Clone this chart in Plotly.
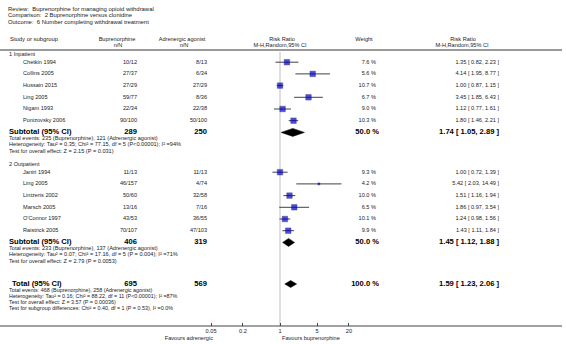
import plotly.graph_objects as go

W, H = 566, 344

# ---------------- data ----------------
review = "Review:  Buprenorphine for managing opioid withdrawal"
comparison = "Comparison:  2 Buprenorphine versus clonidine"
outcome = "Outcome:  6 Number completing withdrawal treatment"

group_names = ["1 Inpatient", "2 Outpatient"]

g1_studies = ["Chetkin 1994", "Collins 2005", "Hussain 2015", "Ling 2005", "Nigam 1993", "Ponizovsky 2006"]
g1_bup = ["10/12", "27/37", "27/29", "59/77", "22/34", "90/100"]
g1_adr = ["8/13", "6/34", "27/29", "8/36", "22/38", "50/100"]
g1_rr = [1.35, 4.14, 1.00, 3.45, 1.12, 1.80]
g1_lo = [0.82, 1.95, 0.87, 1.85, 0.77, 1.46]
g1_hi = [2.23, 8.77, 1.15, 6.43, 1.61, 2.21]
g1_w = [7.6, 5.6, 10.7, 6.7, 9.0, 10.3]

g2_studies = ["Janiri 1994", "Ling 2005", "Lintzeris 2002", "Marsch 2005", "O'Connor 1997", "Raistrick 2005"]
g2_bup = ["11/13", "46/157", "50/60", "13/16", "43/53", "70/107"]
g2_adr = ["11/13", "4/74", "32/58", "7/16", "36/55", "47/103"]
g2_rr = [1.00, 5.42, 1.51, 1.86, 1.24, 1.43]
g2_lo = [0.72, 2.03, 1.16, 0.97, 0.98, 1.11]
g2_hi = [1.39, 14.49, 1.94, 3.54, 1.56, 1.84]
g2_w = [9.3, 4.2, 10.0, 6.5, 10.1, 9.9]

sub_n_bup = [289, 406]
sub_n_adr = [250, 319]
sub_rr = [1.74, 1.45]
sub_lo = [1.05, 1.12]
sub_hi = [2.89, 1.88]
sub_w = [50.0, 50.0]
sub_notes = [
    ["Total events: 235 (Buprenorphine), 121 (Adrenergic agonist)",
     "Heterogeneity: Tau² = 0.35; Chi² = 77.15, df = 5 (P<0.00001); I² =94%",
     "Test for overall effect: Z = 2.15 (P = 0.031)"],
    ["Total events: 233 (Buprenorphine), 137 (Adrenergic agonist)",
     "Heterogeneity: Tau² = 0.07; Chi² = 17.16, df = 5 (P = 0.004); I² =71%",
     "Test for overall effect: Z = 2.79 (P = 0.0053)"],
]

tot_n_bup, tot_n_adr = 695, 569
tot_rr, tot_lo, tot_hi, tot_w = 1.59, 1.23, 2.06, 100.0
tot_notes = [
    "Total events: 468 (Buprenorphine), 258 (Adrenergic agonist)",
    "Heterogeneity: Tau² = 0.16; Chi² = 88.22, df = 11 (P<0.00001); I² =87%",
    "Test for overall effect: Z = 3.57 (P = 0.00036)",
    "Test for subgroup differences: Chi² = 0.40, df = 1 (P = 0.53), I² =0.0%",
]

tick_vals = [0.05, 0.2, 1, 5, 20]
tick_text = ["0.05", "0.2", "1", "5", "20"]

groups = [
    dict(name=group_names[0], studies=g1_studies, bup=g1_bup, adr=g1_adr, rr=g1_rr, lo=g1_lo, hi=g1_hi, w=g1_w),
    dict(name=group_names[1], studies=g2_studies, bup=g2_bup, adr=g2_adr, rr=g2_rr, lo=g2_lo, hi=g2_hi, w=g2_w),
]

# ---------------- layout constants (pixels) ----------------
FONT = "Liberation Sans, Arial, sans-serif"
FS = 5.6
FSB = 7.6
X_BUP = 137
X_ADR = 207
X_W = 376
X_RRT = 499
AX_Y = 326

texts = []  # (x, y, text, pos, size, color)


def add_text(x, y, text, anchor="left", size=FS, bold=False, color="#222"):
    pos = {"left": "middle right", "right": "middle left", "center": "middle center"}[anchor]
    texts.append((x, y, ("<b>%s</b>" % text) if bold else text, pos, size, color))


def fmt_ci(r, l, h):
    return "%.2f [ %.2f, %.2f ]" % (r, l, h)


# header
add_text(8, 10, review, size=5.9)
add_text(8, 16, comparison, size=5.9)
add_text(8, 22.5, outcome, size=5.9)
add_text(10, 40, "Study or subgroup", size=5.9)
add_text(117, 40, "Buprenorphine", anchor="center")
add_text(118, 46, "n/N", anchor="center")
add_text(182, 40, "Adrenergic agonist", anchor="center")
add_text(184, 46, "n/N", anchor="center")
add_text(282, 40, "Risk Ratio", anchor="center")
add_text(280, 46, "M-H,Random,95% CI", anchor="center")
add_text(364, 40, "Weight", anchor="center")
add_text(463, 40, "Risk Ratio", anchor="center")
add_text(462, 46, "M-H,Random,95% CI", anchor="center")

fig = go.Figure()

group_start = [55, 165]
step = 11.7
ci_x, ci_y = [], []
sq_x, sq_y, sq_s = [], [], []

for gi, g in enumerate(groups):
    y0 = group_start[gi]
    add_text(9, y0, g["name"])
    for i, s in enumerate(g["studies"]):
        y = y0 + 7.2 + i * step
        add_text(23, y, s)
        add_text(X_BUP, y, g["bup"][i], anchor="right")
        add_text(X_ADR, y, g["adr"][i], anchor="right")
        add_text(X_W, y, "%.1f %%" % g["w"][i], anchor="right")
        add_text(X_RRT, y, fmt_ci(g["rr"][i], g["lo"][i], g["hi"][i]), anchor="right")
        ci_x += [g["lo"][i], g["hi"][i], None]
        ci_y += [y, y, None]
        sq_x.append(g["rr"][i])
        sq_y.append(y)
        sq_s.append(2 if g["w"][i] < 5 else 5.5)
    ys = y0 + 7.2 + len(g["studies"]) * step
    add_text(9, ys, "Subtotal (95% CI)", size=FSB, bold=True, color="#000")
    add_text(X_BUP, ys, str(sub_n_bup[gi]), anchor="right", size=FSB, bold=True, color="#000")
    add_text(X_ADR, ys, str(sub_n_adr[gi]), anchor="right", size=FSB, bold=True, color="#000")
    add_text(X_W + 3, ys, "%.1f %%" % sub_w[gi], anchor="right", size=FSB, bold=True, color="#000")
    add_text(X_RRT, ys, fmt_ci(sub_rr[gi], sub_lo[gi], sub_hi[gi]), anchor="right", size=FSB, bold=True, color="#000")
    for k, note in enumerate(sub_notes[gi]):
        add_text(9, ys + 6.6 + k * 6.1, note)
    dh = 4
    fig.add_trace(go.Scatter(
        x=[sub_lo[gi], sub_rr[gi], sub_hi[gi], sub_rr[gi], sub_lo[gi]],
        y=[ys, ys - dh, ys, ys + dh, ys],
        mode="lines", fill="toself", fillcolor="#000", line=dict(color="#000", width=0.5),
        hoverinfo="skip", showlegend=False))

# total
yt = 284
add_text(12, yt, "Total (95% CI)", size=FSB, bold=True, color="#000")
add_text(X_BUP, yt, str(tot_n_bup), anchor="right", size=FSB, bold=True, color="#000")
add_text(X_ADR, yt, str(tot_n_adr), anchor="right", size=FSB, bold=True, color="#000")
add_text(X_W + 3, yt, "%.1f %%" % tot_w, anchor="right", size=FSB, bold=True, color="#000")
add_text(X_RRT, yt, fmt_ci(tot_rr, tot_lo, tot_hi), anchor="right", size=FSB, bold=True, color="#000")
for k, note in enumerate(tot_notes):
    add_text(9, yt + 6.3 + k * 6.0, note, size=5.4)
fig.add_trace(go.Scatter(
    x=[tot_lo, tot_rr, tot_hi, tot_rr, tot_lo],
    y=[yt, yt - 3.5, yt, yt + 3.5, yt],
    mode="lines", fill="toself", fillcolor="#000", line=dict(color="#000", width=0.5),
    hoverinfo="skip", showlegend=False))

# CI lines and squares
fig.add_trace(go.Scatter(x=ci_x, y=ci_y, mode="lines", line=dict(color="#111", width=0.8),
                         hoverinfo="skip", showlegend=False))
fig.add_trace(go.Scatter(x=sq_x, y=sq_y, mode="markers",
                         marker=dict(symbol="square", size=sq_s, color="#0000cc",
                                     line=dict(color="#000066", width=0.5)),
                         hoverinfo="skip", showlegend=False))

# favours labels
add_text(213, 339, "Favours adrenergic", anchor="right")
add_text(282, 339, "Favours buprenorphine", anchor="left")

# text traces grouped by style, on a full-width pixel axis
styles = {}
for (x, y, t, pos, size, color) in texts:
    styles.setdefault((pos, size, color), []).append((x, y, t))
for (pos, size, color), items in styles.items():
    fig.add_trace(go.Scatter(
        x=[it[0] for it in items], y=[it[1] for it in items], text=[it[2] for it in items],
        mode="text", textposition=pos, xaxis="x2", yaxis="y2", cliponaxis=False,
        textfont=dict(family=FONT, size=size, color=color),
        hoverinfo="skip", showlegend=False))

shapes = [
    dict(type="line", xref="x2", yref="y2", x0=0, x1=562, y0=50, y1=50,
         line=dict(color="#9a9a9a", width=2)),
    dict(type="line", xref="x2", yref="y2", x0=0, x1=562, y0=AX_Y, y1=AX_Y,
         line=dict(color="#444", width=1)),
    dict(type="line", xref="x", yref="y", x0=1, x1=1, y0=52, y1=AX_Y,
         line=dict(color="#d4d4d4", width=1.5), layer="below"),
]

fig.update_layout(
    width=W, height=H, margin=dict(l=0, r=0, t=0, b=0, pad=0),
    paper_bgcolor="white", plot_bgcolor="rgba(0,0,0,0)",
    shapes=shapes, showlegend=False,
    xaxis=dict(type="log", range=[-2, 2], domain=[174 / W, 386 / W],
               anchor="free", position=(H - AX_Y) / H,
               tickvals=tick_vals, ticktext=tick_text, ticks="inside", ticklen=3,
               tickcolor="#444", tickwidth=0.8,
               tickfont=dict(family=FONT, size=5.6, color="#222"),
               showgrid=False, zeroline=False, showline=False, fixedrange=True),
    yaxis=dict(range=[H, 0], domain=[0, 1],
               showgrid=False, zeroline=False, showticklabels=False, showline=False,
               fixedrange=True),
    xaxis2=dict(range=[0, W], domain=[0, 1], anchor="y2", visible=False, fixedrange=True),
    yaxis2=dict(range=[H, 0], domain=[0, 1], anchor="x2", visible=False, fixedrange=True),
)

fig.write_html("out.html", config={"displayModeBar": False},
               post_script="document.body.style.margin='0px';")
